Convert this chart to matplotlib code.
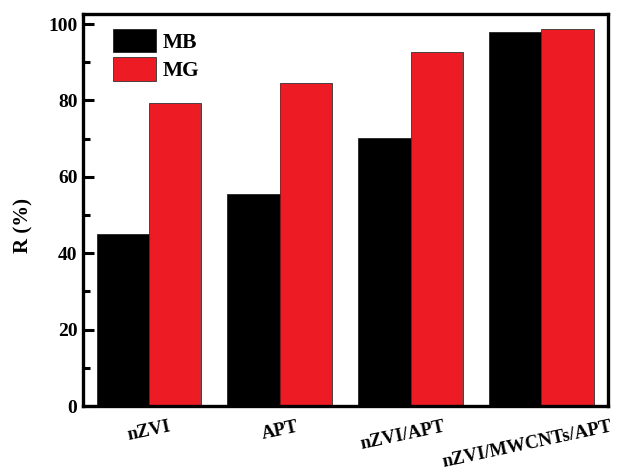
import matplotlib
matplotlib.use("Agg")
import matplotlib.pyplot as plt
import matplotlib.transforms as mtransforms
import numpy as np
from matplotlib.ticker import MultipleLocator

categories = ["nZVI", "APT", "nZVI/APT", "nZVI/MWCNTs/APT"]
mb_values = [45.0, 55.5, 70.2, 97.9]
mg_values = [79.3, 84.6, 92.7, 98.7]
series_names = ["MB", "MG"]
yticks = [0, 20, 40, 60, 80, 100]

plt.rcParams['font.family'] = ['Liberation Serif', 'DejaVu Serif']
plt.rcParams['font.weight'] = 'bold'

fig = plt.figure(figsize=(6.36, 4.71), dpi=100)
ax = fig.add_axes([0.1305, 0.138, 0.8255, 0.832])

x = np.arange(len(categories))
w = 0.4
ax.bar(x - w/2, mb_values, width=w, color='black', edgecolor='#222222', linewidth=0.6, label=series_names[0])
ax.bar(x + w/2, mg_values, width=w, color='#ED1C24', edgecolor='#333333', linewidth=0.6, label=series_names[1])

ax.set_xlim(-0.505, 3.51)
ax.set_ylim(0, 102.6)
ax.set_yticks(yticks)
ax.yaxis.set_minor_locator(MultipleLocator(10))
ax.tick_params(axis='y', which='major', direction='in', length=8, width=2.2, labelsize=14, pad=4)
ax.tick_params(axis='y', which='minor', direction='in', length=5, width=2.2)
ax.set_xticks(x)
ax.set_xticklabels(categories, rotation=12, ha='center', fontsize=13.5, fontweight='bold')
ax.tick_params(axis='x', which='both', length=0, pad=9)
# slight leftward shift of the longer labels, as in the reference
shifts = [0, 0, -8, -14]
for lab, dx in zip(ax.get_xticklabels(), shifts):
    lab.set_transform(lab.get_transform() + mtransforms.ScaledTranslation(dx / 100, 0, fig.dpi_scale_trans))
for lab in ax.get_yticklabels():
    lab.set_fontweight('bold')
for s in ax.spines.values():
    s.set_linewidth(2.4)

ax.set_ylabel("R (%)", fontsize=15, fontweight='bold')
ax.yaxis.set_label_coords(-0.095, 0.46)

leg = ax.legend(loc='upper left', bbox_to_anchor=(0.02, 1.012), frameon=False,
                prop={'family': 'Liberation Serif', 'weight': 'bold', 'size': 15.5},
                handlelength=2.0, handleheight=1.3, handletextpad=0.3, labelspacing=0.2)

fig.savefig("out.png", dpi=100)
